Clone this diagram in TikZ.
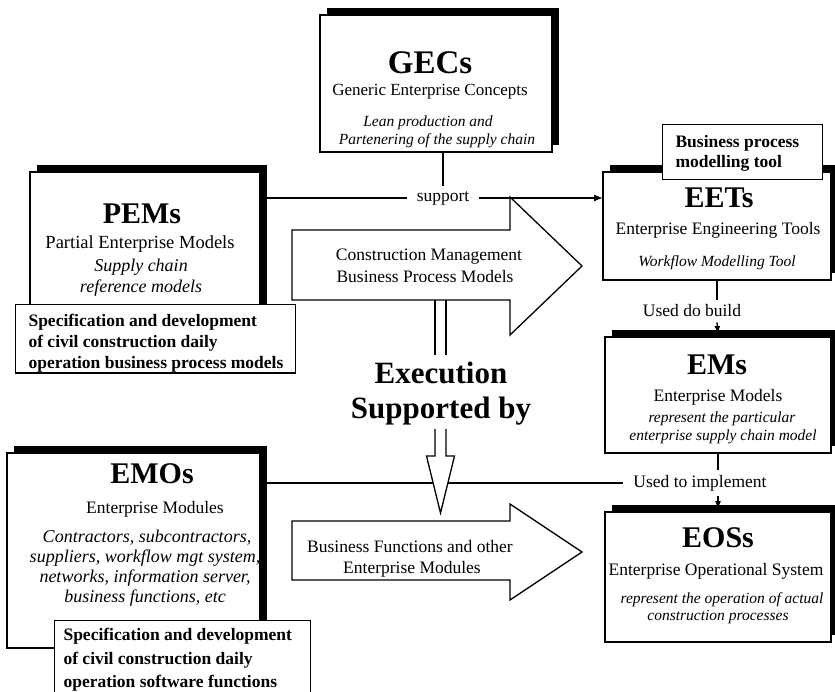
\documentclass[tikz,border=0pt]{standalone}
\usepackage{fontspec}
\setmainfont{Liberation Serif}
\usetikzlibrary{arrows.meta, calc, shadows}

\tikzset{
  box/.style={draw, line width=1.3pt, fill=white, inner sep=0pt, outer sep=0pt,
    drop shadow={shadow xshift=7pt, shadow yshift=7pt, opacity=1, fill=black}},
  note/.style={draw, line width=1pt, fill=white, inner sep=0pt, outer sep=0pt},
  link/.style={line width=1.3pt},
  big/.style={draw, line width=1.3pt, fill=white},
  ttl/.style={anchor=base, font=\fontsize{30}{34}\selectfont\bfseries},
  sub/.style={anchor=base, font=\fontsize{17.5}{20}\selectfont},
  itl/.style={anchor=base, font=\fontsize{15.5}{18}\selectfont\itshape},
  itlbig/.style={anchor=base, font=\fontsize{18}{20}\selectfont\itshape},
  spec/.style={anchor=base west, font=\fontsize{17.5}{20}\selectfont\bfseries},
  word/.style={font=\fontsize{17.5}{20}\selectfont, inner xsep=10pt, inner ysep=5pt},
}

\begin{document}
\begin{tikzpicture}[x=1pt, y=-1pt]
\useasboundingbox (0,0) rectangle (835,692);

% Boxes
\node[box, minimum width=232pt, minimum height=137pt] (gecs) at (436,83.5) {};
\node[box, minimum width=230pt, minimum height=148pt] (pems) at (145,246) {};
\node[box, minimum width=228pt, minimum height=108pt] (eets) at (717,226) {};
\node[box, minimum width=226pt, minimum height=116pt] (ems) at (718,395) {};
\node[box, minimum width=226pt, minimum height=130pt] (eoss) at (718,577) {};
\node[box, minimum width=253pt, minimum height=195pt] (emos) at (133.5,550.5) {};

% Notes on top of the boxes
\node[note, minimum width=280pt, minimum height=68pt] (pemsnote) at (155,339) {};
\node[note, minimum width=160pt, minimum height=55pt] (eetsnote) at (742,152.5) {};
\node[note, minimum width=256pt, minimum height=76pt] (emosnote) at (182,658) {};

% GECs
\node[ttl, font=\fontsize{33}{36}\selectfont\bfseries] (gecsT) at (430,74) {GECs};
\node[sub, font=\fontsize{17}{20}\selectfont] (gecsS) at (430,96) {Generic Enterprise Concepts};
\node[itl] (gecsI1) at (428,127) {Lean production and};
\node[itl] (gecsI2) at (437,145) {Partenering of the supply chain};

% PEMs
\node[ttl] (pemsT) at (142,224) {PEMs};
\node[sub, font=\fontsize{18.5}{20}\selectfont] (pemsS) at (140,249) {Partial Enterprise Models};
\node[itlbig] (pemsI1) at (141,272) {Supply chain};
\node[itlbig] (pemsI2) at (141,293) {reference models};
\node[spec] (pemsN1) at (25,327) {Specification and development};
\node[spec] (pemsN2) at (25,348) {of civil construction daily};
\node[spec] (pemsN3) at (25,369) {operation business process models};

% EETs
\node[spec] (eetsN1) at (672,148) {Business process};
\node[spec] (eetsN2) at (672,168) {modelling tool};
\node[ttl] (eetsT) at (719,208) {EETs};
\node[sub] (eetsS) at (718,235) {Enterprise Engineering Tools};
\node[itl] (eetsI) at (717,267) {Workflow Modelling Tool};

% EMs
\node[ttl] (emsT) at (717,374) {EMs};
\node[sub] (emsS) at (718,401) {Enterprise Models};
\node[itl] (emsI1) at (722,422) {represent the particular};
\node[itl] (emsI2) at (723,440) {enterprise supply chain model};

% EOSs
\node[ttl] (eossT) at (718,547) {EOSs};
\node[sub] (eossS) at (716,575) {Enterprise Operational System};
\node[itl] (eossI1) at (722,603) {represent the operation of actual};
\node[itl] (eossI2) at (718,620) {construction processes};

% EMOs
\node[ttl] (emosT) at (152,483) {EMOs};
\node[sub] (emosS) at (155,513) {Enterprise Modules};
\node[itlbig] (emosI1) at (147,542) {Contractors, subcontractors,};
\node[itlbig] (emosI2) at (145,562) {suppliers, workflow mgt system,};
\node[itlbig] (emosI3) at (145,582) {networks, information server,};
\node[itlbig] (emosI4) at (145,602) {business functions, etc};
\node[spec] (emosN1) at (60,640) {Specification and development};
\node[spec] (emosN2) at (60,664) {of civil construction daily};
\node[spec] (emosN3) at (60,687) {operation software functions};

% Big arrows
\draw[big] (292,230) -- (510,230) -- (510,197) -- (582,266) -- (510,335) -- (510,300) -- (292,300) -- cycle;
\node[sub] (cmT1) at (429,261) {Construction Management};
\node[sub] (cmT2) at (425,283) {Business Process Models};
\draw[big] (292,521) -- (510,521) -- (510,504) -- (582,552) -- (510,600) -- (510,580) -- (292,580) -- cycle;
\node[sub] (bfT1) at (410,552) {Business Functions and other};
\node[sub] (bfT2) at (412,573) {Enterprise Modules};

% Labels on the links
\node[word] (support) at (443,198) {support};
\node[word] (build) at (692,311) {Used do build};
\node[word] (implement) at (700,483) {Used to implement};

% Links
\draw[link] (gecs.south -| support) -- (support);
\draw[link] (pems.east |- support) -- (support);
\draw[link, -{Latex[length=9pt, width=7pt]}] (support) -- (eets.west |- support);
\draw[link] (eets.south) -- (eets.south |- build.north);
\draw[link, -{Latex[length=8pt, width=6pt]}] (eets.south |- build.south) -- ([yshift=3pt]ems.north);
\draw[link] (emos.east |- implement) -- (implement);
\draw[link] (ems.south) -- (ems.south |- implement.north);
\draw[link, -{Latex[length=8pt, width=6pt]}] (ems.south |- implement.south) -- ([yshift=3pt]eoss.north);

% Execution supported by
\node[anchor=base, font=\fontsize{31}{34}\selectfont\bfseries, inner sep=6pt] (exec) at (441,383) {Execution};
\node[anchor=base, font=\fontsize{31}{34}\selectfont\bfseries, inner sep=4pt] (execby) at (441,418) {Supported by};
\coordinate (shaft) at (440.5,300);
\coordinate (headtip) at (440.5,513);
\draw[link] ($(shaft)+(-5.5,0)$) -- ($(shaft |- exec.north)+(-5.5,0)$);
\draw[link] ($(shaft)+(5.5,0)$) -- ($(shaft |- exec.north)+(5.5,0)$);
\draw[big] ($(execby.south -| headtip)+(-5.5,0)$) -- ($(headtip)+(-5.5,-57)$) -- ($(headtip)+(-14,-57)$)
  -- (headtip) -- ($(headtip)+(14,-57)$) -- ($(headtip)+(5.5,-57)$) -- ($(execby.south -| headtip)+(5.5,0)$);

\end{tikzpicture}
\end{document}
